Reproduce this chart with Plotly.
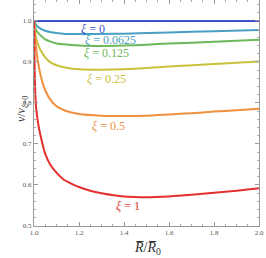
import plotly.graph_objects as go

# curve data
xi_labels = ["0", "0.0625", "0.125", "0.25", "0.5", "1"]
colors = ["#3d52c8", "#4aa0c2", "#6cb85a", "#c9c23c", "#f0903e", "#e2302e"]

R_blue = [1.0, 2.0]
v_blue = [1.0, 1.0]

R_teal = [1.0, 1.01, 1.027, 1.05, 1.071, 1.13, 1.2, 1.3, 1.4, 1.6, 1.8, 2.0]
v_teal = [1.0, 0.990, 0.982, 0.976, 0.973, 0.969, 0.968, 0.968, 0.969, 0.972, 0.975, 0.978]

R_green = [1.0, 1.01, 1.027, 1.05, 1.071, 1.1, 1.13, 1.2, 1.3, 1.4, 1.5, 1.6, 1.8, 2.0]
v_green = [1.0, 0.977, 0.966, 0.955, 0.950, 0.945, 0.943, 0.940, 0.939, 0.940, 0.942, 0.945, 0.949, 0.954]

R_yellow = [1.0, 1.005, 1.012, 1.02, 1.027, 1.04, 1.05, 1.07, 1.1, 1.15, 1.2, 1.3, 1.4, 1.5, 1.6, 1.8, 2.0]
v_yellow = [1.0, 0.975, 0.952, 0.940, 0.931, 0.919, 0.911, 0.900, 0.892, 0.885, 0.882, 0.881, 0.882, 0.885, 0.889, 0.895, 0.901]

R_orange = [1.0, 1.005, 1.01, 1.02, 1.03, 1.04, 1.05, 1.07, 1.1, 1.15, 1.2, 1.3, 1.4, 1.5, 1.6, 1.7, 1.8, 1.9, 2.0]
v_orange = [1.0, 0.960, 0.930, 0.893, 0.866, 0.846, 0.831, 0.810, 0.792, 0.779, 0.773, 0.769, 0.768, 0.769, 0.772, 0.775, 0.779, 0.782, 0.786]

R_red = [1.0, 1.003, 1.006, 1.01, 1.02, 1.03, 1.04, 1.05, 1.07, 1.1, 1.13, 1.17, 1.2, 1.25, 1.3, 1.4, 1.5, 1.6, 1.7, 1.8, 1.9, 2.0]
v_red = [1.0, 0.880, 0.820, 0.785, 0.745, 0.718, 0.695, 0.676, 0.652, 0.630, 0.614, 0.602, 0.595, 0.586, 0.580, 0.572, 0.570, 0.572, 0.576, 0.581, 0.586, 0.592]

series_R = [R_blue, R_teal, R_green, R_yellow, R_orange, R_red]
series_v = [v_blue, v_teal, v_green, v_yellow, v_orange, v_red]

# label anchor positions (data coords)
label_R = [1.262, 1.338, 1.32, 1.324, 1.333, 1.418]
label_v = [0.981, 0.953, 0.923, 0.859, 0.745, 0.549]

serif = "Liberation Serif"

fig = go.Figure()
for R, v, c in zip(series_R, series_v, colors):
    fig.add_trace(go.Scatter(x=R, y=v, mode="lines",
                             line=dict(color=c, width=2, shape="spline", smoothing=0.6),
                             showlegend=False, hoverinfo="skip"))

for lab, lr, lv, c in zip(xi_labels, label_R, label_v, colors):
    fig.add_annotation(x=lr, y=lv, xref="x", yref="y", text="<i>ξ</i> = " + lab,
                       showarrow=False, font=dict(family=serif, size=12, color=c))

axis_common = dict(showgrid=False, zeroline=False, showline=True, linecolor="#999999",
                   linewidth=1, mirror="allticks", ticks="inside", ticklen=4,
                   tickcolor="#999999", automargin=False,
                   tickfont=dict(family=serif, size=7, color="#555555"))

fig.update_xaxes(range=[1.0, 2.0], tick0=1.0, dtick=0.2, tickformat=".1f",
                 minor=dict(dtick=0.05, ticks="inside", ticklen=2, tickcolor="#aaaaaa"),
                 **axis_common)
fig.update_yaxes(range=[0.5, 1.051], tick0=0.5, dtick=0.1, tickformat=".1f",
                 minor=dict(dtick=0.02, ticks="inside", ticklen=2, tickcolor="#aaaaaa"),
                 **axis_common)

fig.add_annotation(x=0.505, y=-0.055, xref="paper", yref="paper",
                   text="<i>R\u0305</i>/<i>R\u0305</i><sub>0</sub>", showarrow=False,
                   yanchor="top", font=dict(family=serif, size=14, color="#333333"))
fig.add_annotation(x=-0.095, y=0.52, xref="paper", yref="paper",
                   text="<i>ν</i>/<i>ν</i><sub><i>ξ</i>=0</sub>", showarrow=False,
                   textangle=-90, font=dict(family=serif, size=12, color="#333333"))

fig.update_layout(width=266, height=258, margin=dict(l=34, r=7, t=0, b=32),
                  plot_bgcolor="white", paper_bgcolor="white")

fig.write_html("out.html", config={"displayModeBar": False},
               post_script="document.body.style.margin='0';")
